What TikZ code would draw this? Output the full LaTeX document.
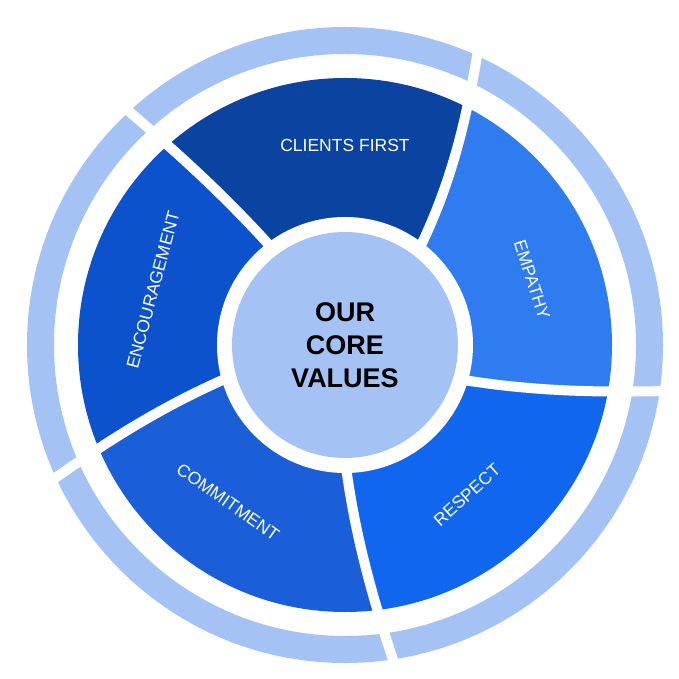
\documentclass[tikz,border=0pt]{standalone}
\usepackage{fontspec}
\setmainfont{Liberation Sans}
\definecolor{ringc}{HTML}{A4C2F4}
\definecolor{cA}{HTML}{0A44A0}
\definecolor{cB}{HTML}{2F7BF0}
\definecolor{cC}{HTML}{1166EE}
\definecolor{cD}{HTML}{1A5FD8}
\definecolor{cE}{HTML}{0C52CC}
\newcommand\fwd[2]{(#1:100) .. controls ({#1+0.35*(#2-#1)}:190) and ({#1+0.75*(#2-#1)}:260) .. (#2:330)}
\newcommand\bwd[2]{(#2:330) .. controls ({#1+0.75*(#2-#1)}:260) and ({#1+0.35*(#2-#1)}:190) .. (#1:100)}
\tikzset{lbl/.style={text=white,inner sep=1pt,font=\fontsize{17.5}{19}\selectfont},
 divider/.style={draw=white,line width=10pt}}
\begin{document}
\begin{tikzpicture}[x=1pt,y=1pt]
\useasboundingbox (-345,-334) rectangle (334,345);
\fill[white] (-345,-334) rectangle (334,345);
\fill[ringc,even odd rule] (0,0) circle(318) (0,0) circle(291);
\begin{scope}
\clip (0,0) circle(267);
\fill[cA] (0,0) -- \fwd{126}{133} arc[start angle=133,end angle=66,radius=330] -- \bwd{50}{66} -- cycle;
\fill[cB] (0,0) -- \fwd{50}{66} arc[start angle=66,end angle=-8,radius=330] -- \bwd{-18}{-8} -- cycle;
\fill[cC] (0,0) -- \fwd{-18}{-8} arc[start angle=-8,end angle=-81,radius=330] -- \bwd{-91}{-81} -- cycle;
\fill[cD] (0,0) -- \fwd{-91}{-81} arc[start angle=-81,end angle=-155,radius=330] -- \bwd{-166}{-155} -- cycle;
\fill[cE] (0,0) -- \fwd{194}{205} arc[start angle=205,end angle=133,radius=330] -- \bwd{126}{133} -- cycle;
\end{scope}
\path[divider] \fwd{50}{66};
\path[divider] \fwd{-18}{-8};
\path[divider] \fwd{-91}{-81};
\path[divider] \fwd{194}{205};
\path[divider] \fwd{126}{133};
\fill[white] (0,0) circle(128);
\node[circle,fill=ringc,minimum size=226pt,inner sep=0pt,align=center,
  font=\bfseries\fontsize{27}{33}\selectfont] (core) at (0,0) {OUR\\CORE\\VALUES};
\node[lbl] (clients) at (0,200) {CLIENTS FIRST};
\node[lbl,rotate=-72] (empathy) at (187,65) {EMPATHY};
\node[lbl,rotate=42] (respect) at (122,-150) {RESPECT};
\node[lbl,rotate=-35] (commit) at (-117,-157) {COMMITMENT};
\node[lbl,rotate=75] (enc) at (-192,55) {ENCOURAGEMENT};
\end{tikzpicture}
\end{document}
